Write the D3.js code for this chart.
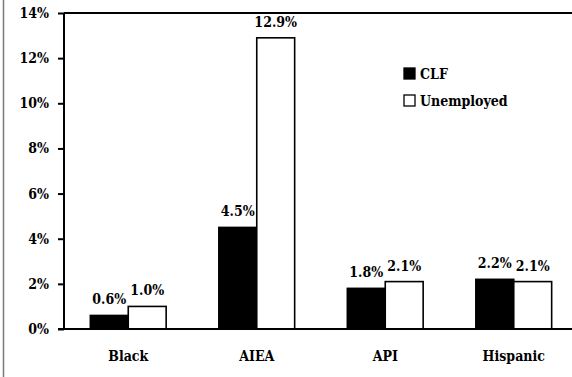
<!DOCTYPE html>
<html>
<head>
<meta charset="utf-8">
<script src="https://cdn.jsdelivr.net/npm/d3@7"></script>
<style>
  html, body { margin: 0; padding: 0; background: #fff; }
  svg { display: block; }
</style>
</head>
<body>
<script>
// Share of civilian labor force vs. unemployed, by group
const categories = ["Black", "AIEA", "API", "Hispanic"];
const seriesNames = ["CLF", "Unemployed"];
const clfValues = [0.6, 4.5, 1.8, 2.2];
const unemployedValues = [1.0, 12.9, 2.1, 2.1];
const yTicks = [0, 2, 4, 6, 8, 10, 12, 14];

const W = 572, H = 377;
const margin = { top: 13, left: 64, bottom: 48 };
const plotRight = 578;   // plot area runs past the right edge of the frame
const FONT = "DejaVu Serif Condensed, DejaVu Serif, serif";
const FS = 14;

const svg = d3.select("body").append("svg")
  .attr("width", W).attr("height", H)
  .style("font-family", FONT)
  .style("font-weight", "bold");

// outer frame line on the left
svg.append("line")
  .attr("x1", 3.5).attr("x2", 3.5).attr("y1", 0).attr("y2", H)
  .attr("stroke", "#7a7a7a").attr("stroke-width", 1.5);

const x0 = d3.scaleBand()
  .domain(categories)
  .range([margin.left, plotRight])
  .paddingInner(0.41).paddingOuter(0.205);

const x1 = d3.scaleBand()
  .domain(seriesNames)
  .range([0, x0.bandwidth()]);

const y = d3.scaleLinear()
  .domain([0, 14])
  .range([H - margin.bottom, margin.top]);

const rows = categories.map((c, i) => ({
  cat: c,
  values: [
    { key: "CLF", v: clfValues[i] },
    { key: "Unemployed", v: unemployedValues[i] }
  ]
}));

const fill = { CLF: "#000", Unemployed: "#fff" };

// bars
const groups = svg.append("g").selectAll("g")
  .data(rows).join("g")
  .attr("transform", d => `translate(${x0(d.cat)},0)`);

groups.selectAll("rect")
  .data(d => d.values).join("rect")
  .attr("x", d => x1(d.key))
  .attr("y", d => y(d.v))
  .attr("width", x1.bandwidth())
  .attr("height", d => y(0) - y(d.v))
  .attr("fill", d => fill[d.key])
  .attr("stroke", "#000")
  .attr("stroke-width", 1.6);

// value labels
groups.selectAll("text")
  .data(d => d.values).join("text")
  .attr("x", d => x1(d.key) + x1.bandwidth() / 2)
  .attr("y", d => y(d.v) - 11)
  .attr("text-anchor", "middle")
  .style("font-family", FONT)
  .style("font-size", FS + "px")
  .text(d => d.v.toFixed(1) + "%");

// y axis
const yAxis = d3.axisLeft(y)
  .tickValues(yTicks)
  .tickFormat(d => d + "%")
  .tickSize(6)
  .tickPadding(9);

const gy = svg.append("g")
  .attr("transform", `translate(${margin.left},0)`)
  .call(yAxis);
gy.select(".domain").remove();
gy.selectAll(".tick line").attr("stroke", "#000").attr("stroke-width", 2);
gy.selectAll(".tick text")
  .style("font-family", FONT)
  .style("font-size", FS + "px");

// plot area frame: left, top, bottom
svg.append("line")
  .attr("x1", margin.left).attr("x2", margin.left)
  .attr("y1", y(14)).attr("y2", y(0))
  .attr("stroke", "#000").attr("stroke-width", 2);
svg.append("line")
  .attr("x1", margin.left).attr("x2", plotRight)
  .attr("y1", y(14)).attr("y2", y(14))
  .attr("stroke", "#000").attr("stroke-width", 2);
svg.append("line")
  .attr("x1", margin.left - 6).attr("x2", plotRight)
  .attr("y1", y(0)).attr("y2", y(0))
  .attr("stroke", "#000").attr("stroke-width", 2);

// category labels
const xAxis = d3.axisBottom(x0).tickSize(0).tickPadding(22);
const gx = svg.append("g")
  .attr("transform", `translate(0,${y(0)})`)
  .call(xAxis);
gx.select(".domain").remove();
gx.selectAll(".tick text")
  .style("font-family", FONT)
  .style("font-size", FS + "px");

// legend
const legend = svg.append("g").attr("transform", "translate(404,68)");
const li = legend.selectAll("g")
  .data(seriesNames).join("g")
  .attr("transform", (d, i) => `translate(0,${i * 27})`);
li.append("rect")
  .attr("width", 11).attr("height", 11)
  .attr("fill", d => fill[d])
  .attr("stroke", "#000").attr("stroke-width", 1.3);
li.append("text")
  .attr("x", 16).attr("y", 11)
  .style("font-family", FONT)
  .style("font-size", FS + "px")
  .text(d => d);
</script>
</body>
</html>
